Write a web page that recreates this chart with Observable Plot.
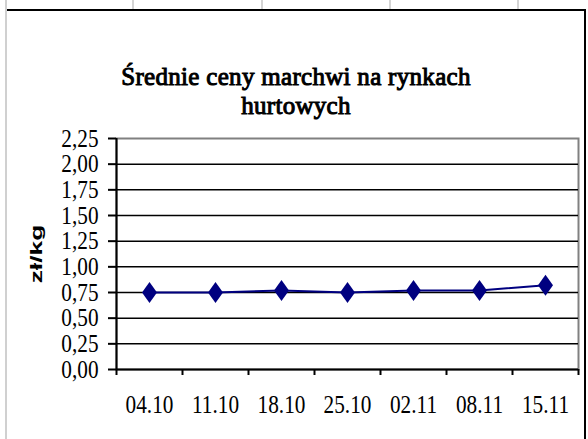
<!DOCTYPE html>
<html>
<head>
<meta charset="utf-8">
<script src="https://cdn.jsdelivr.net/npm/d3@7"></script>
<script src="https://cdn.jsdelivr.net/npm/@observablehq/plot@0.6"></script>
<style>
  html, body { margin: 0; padding: 0; background: #fff; overflow: hidden; }
  #page { position: relative; width: 588px; height: 439px; overflow: hidden; }
  .sep { position: absolute; top: 0; width: 2px; height: 9px; background: #d4d4d4; }
  #leftline { position: absolute; left: 5px; top: 0; width: 2px; height: 439px; background: #d0d0d0; }
  #box { position: absolute; left: 7px; top: 9px; width: 577px; height: 440px;
         border-top: 2px solid #000; border-right: 2px solid #000; }
  #title { position: absolute; left: 0; width: 592px; top: 62px; text-align: center;
           font-family: "Liberation Serif", "Times New Roman", serif; font-weight: normal;
           -webkit-text-stroke: 1px #000; letter-spacing: 0.3px;
           font-size: 25px; line-height: 29px; color: #000; }
  #chart { position: absolute; left: 0; top: 120px; }
</style>
</head>
<body>
<div id="page">
  <div class="sep" style="left:132px"></div>
  <div class="sep" style="left:261px"></div>
  <div class="sep" style="left:389px"></div>
  <div class="sep" style="left:517px"></div>
  <div id="leftline"></div>
  <div id="box"></div>
  <div id="title">Średnie ceny marchwi na rynkach<br>hurtowych</div>
  <div id="chart"></div>
</div>
<script>
// ---- data ----
const dates = ["04.10", "11.10", "18.10", "25.10", "02.11", "08.11", "15.11"];
const prices = [0.75, 0.75, 0.77, 0.75, 0.77, 0.77, 0.82];
const yTicks = [0, 0.25, 0.5, 0.75, 1.0, 1.25, 1.5, 1.75, 2.0, 2.25];
const yLabel = "zł/kg";

const data = dates.map((d, i) => ({date: d, pos: i + 0.5, price: prices[i]}));
const fmt = v => v.toFixed(2).replace(".", ",");
const navy = "#000080";

const tallDiamond = {
  draw(ctx, size) {
    const r = Math.sqrt(size / Math.PI);
    const h = r * 1.4, w = r;
    ctx.moveTo(0, -h);
    ctx.lineTo(w, 0);
    ctx.lineTo(0, h);
    ctx.lineTo(-w, 0);
    ctx.closePath();
  }
};

const plot = Plot.plot({
  width: 588,
  height: 319,
  marginLeft: 116,
  marginRight: 10,
  marginTop: 18,
  marginBottom: 70,
  style: {fontFamily: "'Liberation Serif', 'Times New Roman', serif", fontSize: "25px", color: "#000", background: "transparent"},
  x: {type: "linear", domain: [0, dates.length], axis: null},
  y: {domain: [0, 2.25], axis: null},
  marks: [
    Plot.frame({stroke: "#808080", strokeWidth: 2}),
    Plot.ruleY(yTicks.filter(v => v > 0 && v < 2.25), {stroke: "#000", strokeWidth: 1.5}),
    Plot.axisY({ticks: yTicks, tickSize: 8, tickPadding: 10, tickFormat: fmt, strokeWidth: 2, label: null, fontSize: 25}),
    Plot.axisX({ticks: d3.range(dates.length + 1), tickSize: 6, tickFormat: () => "", strokeWidth: 2, label: null}),
    Plot.axisX(data.map(d => d.pos), {tickSize: 0, tickPadding: 26, tickFormat: p => dates[Math.floor(p)], label: null, fontSize: 25}),
    Plot.ruleX([0], {stroke: "#000", strokeWidth: 2}),
    Plot.ruleY([0], {stroke: "#000", strokeWidth: 2}),
    Plot.line(data, {x: "pos", y: "price", stroke: navy, strokeWidth: 2}),
    Plot.dot(data, {x: "pos", y: "price", symbol: tallDiamond, r: 7.5, fill: navy, stroke: "none"}),
    Plot.text([yLabel], {frameAnchor: "left", dx: -80, rotate: -90, fontFamily: "'Liberation Sans', Arial, sans-serif",
      fontWeight: "bold", fontSize: 24, fill: "#000", textAnchor: "middle"})
  ]
});

document.getElementById("chart").appendChild(plot);

// condense tick labels horizontally like the original
const svg = d3.select(plot);
svg.selectAll('g[aria-label="y-axis tick label"] text, g[aria-label="x-axis tick label"] text').each(function() {
  const t = this.getAttribute("transform") || "";
  this.setAttribute("transform", t + " scale(0.85,1)");
});
svg.selectAll('g[aria-label="text"] text').each(function() {
  const t = this.getAttribute("transform") || "";
  this.setAttribute("transform", t + " scale(1.1,0.7)");
});
</script>
</body>
</html>
